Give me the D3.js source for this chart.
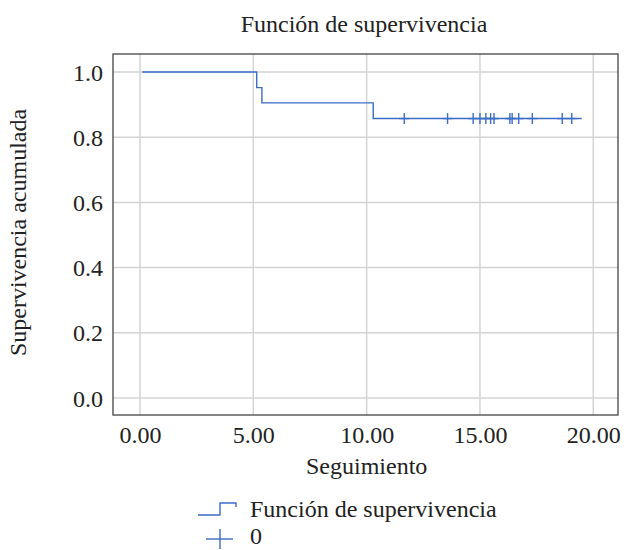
<!DOCTYPE html>
<html>
<head>
<meta charset="utf-8">
<script src="https://cdn.jsdelivr.net/npm/d3@7"></script>
<style>
    body { margin: 0; background: #fff; }
</style>
</head>
<body>
<div id="chart"></div>
<script>
// Kaplan-Meier estimate
var startTime = 0.1;
var endTime = 19.49;
var eventTimes = [5.15, 5.38, 10.29];
var survival = [1.0, 0.952, 0.905, 0.857];   // value before first event, then after each event
var censorTimes = [11.66, 13.57, 14.70, 15.00, 15.26, 15.47, 15.62, 16.32, 16.42, 16.71, 17.31, 18.63, 19.05];

var xTicks = [0, 5, 10, 15, 20];
var yTicks = [0, 0.2, 0.4, 0.6, 0.8, 1.0];

var title = "Función de supervivencia";
var xLabel = "Seguimiento";
var yLabel = "Supervivencia acumulada";
var legendLabels = ["Función de supervivencia", "0"];

var lineColor = "#3b6cc6";
var font = "Liberation Serif";

var containerWidth = 630, containerHeight = 550;
var margins = {left: 113, top: 54, right: 12, bottom: 135};
var width = containerWidth - margins.left - margins.right;
var height = containerHeight - margins.top - margins.bottom;

var svg = d3.select("#chart").append("svg")
    .attr("width", containerWidth)
    .attr("height", containerHeight)
    .attr("font-family", font);
var g = svg.append("g")
    .attr("transform", "translate(" + margins.left + "," + margins.top + ")");

var x = d3.scaleLinear().domain([-1.19, 21.09]).range([0, width]);
var y = d3.scaleLinear().domain([-0.052, 1.055]).range([height, 0]);

// grid
g.append("g").selectAll("line").data(xTicks).join("line")
    .attr("x1", function(d) { return x(d); }).attr("x2", function(d) { return x(d); })
    .attr("y1", 0).attr("y2", height)
    .style("stroke", "#d4d4d4").style("stroke-width", 1.5);
g.append("g").selectAll("line").data(yTicks).join("line")
    .attr("y1", function(d) { return y(d); }).attr("y2", function(d) { return y(d); })
    .attr("x1", 0).attr("x2", width)
    .style("stroke", "#d4d4d4").style("stroke-width", 1.5);

// tick labels via axes, no tick lines
var xAxis = g.append("g")
    .attr("transform", "translate(0," + height + ")")
    .call(d3.axisBottom(x).tickValues(xTicks).tickFormat(d3.format(".2f")).tickSize(0).tickPadding(10));
var yAxis = g.append("g")
    .call(d3.axisLeft(y).tickValues(yTicks).tickFormat(d3.format(".1f")).tickSize(0).tickPadding(10));
[xAxis, yAxis].forEach(function(a) {
    a.attr("font-family", font).attr("font-size", 24);
    a.select(".domain").remove();
    a.selectAll("text")
        .attr("font-family", font)
        .attr("font-size", 24)
        .attr("fill", "#222");
});
xAxis.selectAll("text").attr("dy", "0.75em");
yAxis.selectAll("text").attr("dy", "0.34em");

// step line
var steps = [[startTime, survival[0]]];
eventTimes.forEach(function(t, i) { steps.push([t, survival[i + 1]]); });
steps.push([endTime, survival[survival.length - 1]]);

var line = d3.line()
    .x(function(d) { return x(d[0]); })
    .y(function(d) { return y(d[1]); })
    .curve(d3.curveStepAfter);
g.append("path")
    .datum(steps)
    .attr("d", line)
    .style("fill", "none")
    .style("stroke", lineColor)
    .style("stroke-width", 1.4);

// censor marks
function survivalAt(t) {
    var s = survival[0];
    eventTimes.forEach(function(e, i) { if(t >= e) s = survival[i + 1]; });
    return s;
}
var marks = g.append("g").selectAll("g").data(censorTimes).join("g")
    .attr("transform", function(d) { return "translate(" + x(d) + "," + y(survivalAt(d)) + ")"; });
marks.append("line").attr("x1", 0).attr("x2", 0).attr("y1", -5.5).attr("y2", 5.5)
    .style("stroke", lineColor).style("stroke-width", 1.4);
marks.append("line").attr("x1", -5).attr("x2", 5).attr("y1", 0).attr("y2", 0)
    .style("stroke", lineColor).style("stroke-width", 1.4);

// frame
g.append("rect")
    .attr("width", width).attr("height", height)
    .style("fill", "none").style("stroke", "#444").style("stroke-width", 1.3);

// titles
function addText(sel, txt) {
    return sel.append("text")
        .attr("font-family", font)
        .attr("font-size", 24)
        .attr("fill", "#222")
        .text(txt);
}
addText(svg, title)
    .attr("x", 364).attr("y", 32)
    .attr("text-anchor", "middle");
addText(svg, xLabel)
    .attr("x", margins.left + x(10)).attr("y", 474)
    .attr("text-anchor", "middle");
addText(svg, yLabel)
    .attr("transform", "translate(26," + (margins.top + height / 2 - 2) + ") rotate(-90)")
    .attr("text-anchor", "middle");

// legend
var legend = svg.append("g").attr("transform", "translate(198,503)");
legend.append("path")
    .attr("d", "M0,12H22V0H38V4")
    .style("fill", "none").style("stroke", lineColor).style("stroke-width", 1.4);
addText(legend, legendLabels[0]).attr("x", 52).attr("y", 14);
legend.append("line").attr("x1", 8).attr("x2", 35).attr("y1", 36).attr("y2", 36)
    .style("stroke", lineColor).style("stroke-width", 1.4);
legend.append("line").attr("x1", 22).attr("x2", 22).attr("y1", 26).attr("y2", 46)
    .style("stroke", lineColor).style("stroke-width", 1.4);
addText(legend, legendLabels[1]).attr("x", 52).attr("y", 41);
</script>
</body>
</html>
